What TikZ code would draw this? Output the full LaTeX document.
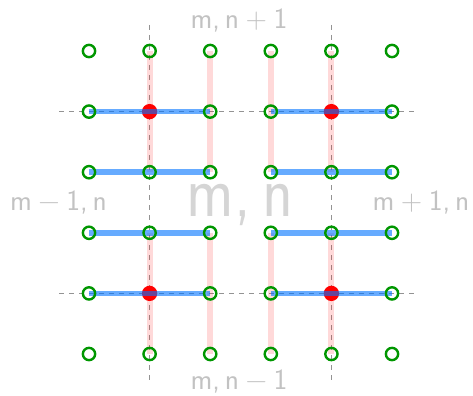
\documentclass[tikz,border=0pt]{standalone}
\usetikzlibrary{calc}
\newcommand{\thsp}{\hspace{0.167em}}
\newcommand{\mdsp}{\hspace{0.222em}}
\begin{document}
\begin{tikzpicture}[x=0.75pt,y=-0.75pt,
  guide/.style={draw=gray!85,line width=0.8pt,dash pattern=on 3.75pt off 3.75pt},
  pinkbar/.style={draw=red,draw opacity=0.15,line width=4.4pt},
  bluebar/.style={draw={rgb,255:red,0;green,115;blue,255},draw opacity=0.6,line width=4.2pt},
  site/.style={circle,draw={rgb,255:red,0;green,150;blue,0},line width=1.8pt,minimum size=9.2pt,inner sep=0pt},
  reddot/.style={circle,fill=red,minimum size=11.5pt,inner sep=0pt},
  smalllab/.style={text=gray!48,font=\sffamily\fontsize{22}{23}\selectfont},
  biglab/.style={text=gray!33,font=\sffamily\fontsize{48}{50}\selectfont,yscale=1.15}]
\useasboundingbox (0,0) rectangle (473,395);
% grid coordinates
\foreach \i in {0,...,5}{
  \foreach \j in {0,...,5}{
    \coordinate (p\i\j) at (89+60.6*\i,51+60.6*\j);
  }
}
% guide line ends
\coordinate (vat) at (149.6,25);
\coordinate (vab) at (149.6,385);
\coordinate (vbt) at (331.4,25);
\coordinate (vbb) at (331.4,385);
\coordinate (hal) at (59,111.6);
\coordinate (har) at (419,111.6);
\coordinate (hbl) at (59,293.4);
\coordinate (hbr) at (419,293.4);
\draw[guide] (vat) -- (vab);
\draw[guide] (vbt) -- (vbb);
\draw[guide] (hal) -- (har);
\draw[guide] (hbl) -- (hbr);
% pink vertical bars
\foreach \i in {1,2,3,4}{
  \draw[pinkbar] (p\i0) -- (p\i2);
  \draw[pinkbar] (p\i3) -- (p\i5);
}
% red dots
\foreach \i/\j in {1/1,4/1,1/4,4/4}{
  \node[reddot] (r\i\j) at (p\i\j) {};
}
% blue horizontal bars
\foreach \j in {1,2,3,4}{
  \draw[bluebar] (p0\j) -- (p2\j);
  \draw[bluebar] (p3\j) -- (p5\j);
}
% green sites (none under the red dots)
\foreach \i in {0,...,5}{
  \foreach \j in {0,...,5}{
    \pgfmathtruncatemacro{\isred}{((\i==1 || \i==4) && (\j==1 || \j==4)) ? 1 : 0}
    \ifnum\isred=0
      \node[site] (s\i\j) at (p\i\j) {};
    \fi
  }
}
% labels
\node[smalllab] (ltop) at (239,20) {m,\thsp n\mdsp+\mdsp 1};
\node[smalllab] (lbot) at (239,381) {m,\thsp n\mdsp−\mdsp 1};
\node[smalllab] (lleft) at (58.5,202) {m\mdsp−\mdsp 1,\thsp n};
\node[smalllab] (lright) at (421,202) {m\mdsp+\mdsp 1,\thsp n};
\node[biglab] (lmid) at (240,205) {m,\thsp n};
\end{tikzpicture}
\end{document}
